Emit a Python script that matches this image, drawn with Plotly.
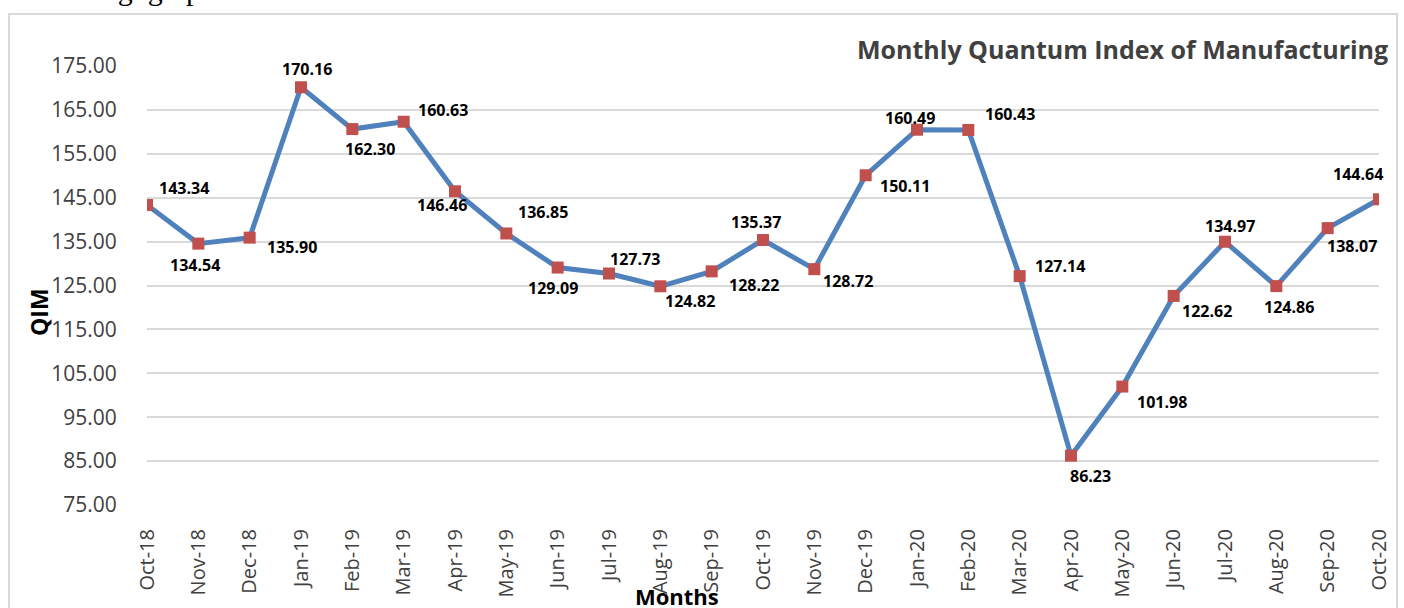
import plotly.graph_objects as go

months = ["Oct-18", "Nov-18", "Dec-18", "Jan-19", "Feb-19", "Mar-19", "Apr-19", "May-19",
          "Jun-19", "Jul-19", "Aug-19", "Sep-19", "Oct-19", "Nov-19", "Dec-19", "Jan-20",
          "Feb-20", "Mar-20", "Apr-20", "May-20", "Jun-20", "Jul-20", "Aug-20", "Sep-20", "Oct-20"]
qim = [143.34, 134.54, 135.90, 170.16, 160.63, 162.30, 146.46, 136.85, 129.09, 127.73,
       124.82, 128.22, 135.37, 128.72, 150.11, 160.49, 160.43, 127.14, 86.23, 101.98,
       122.62, 134.97, 124.86, 138.07, 144.64]
# data labels as printed on the chart
label_text = ["143.34", "134.54", "135.90", "170.16", "162.30", "160.63", "146.46", "136.85",
              "129.09", "127.73", "124.82", "128.22", "135.37", "128.72", "150.11", "160.49",
              "160.43", "127.14", "86.23", "101.98", "122.62", "134.97", "124.86", "138.07",
              "144.64"]
y_ticks = [75, 85, 95, 105, 115, 125, 135, 145, 155, 165, 175]

# label offsets in pixels (dx, dy up)
label_dx = [37, -3, 42, 6, 18, 39, -13, 37, -5, 26, 30, 42, -7, 34, 39, -7, 42, 40, 19, 40, 33, 5, 13, 24, -21]
label_dy = [17, -21, -9, 18, -20, 12, -14, 21, -20, 15, -15, -14, 18, -12, -11, 12, 16, 10, -20, -15, -15, 16, -21, -18, 25]

W, H = 1404, 608
L, R, T, B = 147, 25, 66, 103
pw, ph = W - L - R, H - T - B

fig = go.Figure()
fig.add_trace(go.Scatter(
    x=list(range(len(months))), y=qim, mode="lines+markers",
    line=dict(color="#4f81bd", width=5),
    marker=dict(symbol="square", size=12, color="#c0504d", line=dict(width=0)),
    hoverinfo="x+y", showlegend=False,
))

annotations = []
for i, (t, v) in enumerate(zip(label_text, qim)):
    annotations.append(dict(
        x=i, y=v, xref="x", yref="y", text="<b>%s</b>" % t, showarrow=False,
        xshift=label_dx[i], yshift=label_dy[i],
        font=dict(family="Open Sans", size=16, color="#000000"),
    ))

def px_x(p):
    return (p - L) / pw

def px_y(p):
    return (H - B - p) / ph

annotations.append(dict(
    x=px_x(1390), y=px_y(49), xref="paper", yref="paper", xanchor="right", yanchor="middle",
    text="<b>Monthly Quantum Index of Manufacturing</b>", showarrow=False,
    font=dict(family="Open Sans", size=25, color="#404040"),
))
annotations.append(dict(
    x=px_x(39), y=px_y(312), xref="paper", yref="paper", xanchor="center", yanchor="middle",
    text="<b>QIM</b>", textangle=-90, showarrow=False,
    font=dict(family="Open Sans", size=23, color="#000000"),
))
annotations.append(dict(
    x=px_x(677), y=px_y(596), xref="paper", yref="paper", xanchor="center", yanchor="middle",
    text="<b>Months</b>", showarrow=False,
    font=dict(family="Open Sans", size=22, color="#000000"),
))
annotations.append(dict(
    x=px_x(14), y=px_y(-11), xref="paper", yref="paper", xanchor="left", yanchor="middle",
    text="following&nbsp;&nbsp;graph:", showarrow=False,
    font=dict(family="Liberation Serif", size=30, color="#000000"),
))

fig.update_layout(
    width=W, height=H,
    margin=dict(l=L, r=R, t=T, b=B, pad=0),
    paper_bgcolor="white", plot_bgcolor="white",
    annotations=annotations,
    shapes=[dict(
        type="rect", xref="paper", yref="paper", xsizemode="pixel", ysizemode="pixel",
        xanchor=0, yanchor=0, x0=9 - L, x1=1397 - L, y0=-(H - ph), y1=(H - B) - 14,
        line=dict(color="#d9d9d9", width=2), fillcolor="rgba(0,0,0,0)", layer="below",
    )],
    xaxis=dict(
        range=[0, len(months) - 1], tickmode="array", tickvals=list(range(len(months))),
        ticktext=months, tickangle=-90, showgrid=False, zeroline=False, showline=False,
        ticks="outside", ticklen=15, tickcolor="rgba(0,0,0,0)",
        tickfont=dict(family="Open Sans", size=20, color="#404040"),
    ),
    yaxis=dict(
        range=[75, 175], tickmode="array", tickvals=y_ticks,
        ticktext=["%.2f" % v for v in y_ticks],
        showgrid=True, gridcolor="#d9d9d9", gridwidth=2, zeroline=False, showline=False,
        ticks="outside", ticklen=25, tickcolor="rgba(0,0,0,0)",
        tickfont=dict(family="Open Sans", size=21, color="#404040"),
    ),
)

fig.write_html("out.html", config={"displayModeBar": False},
               post_script="document.body.style.margin='0';document.body.style.overflow='hidden';")
